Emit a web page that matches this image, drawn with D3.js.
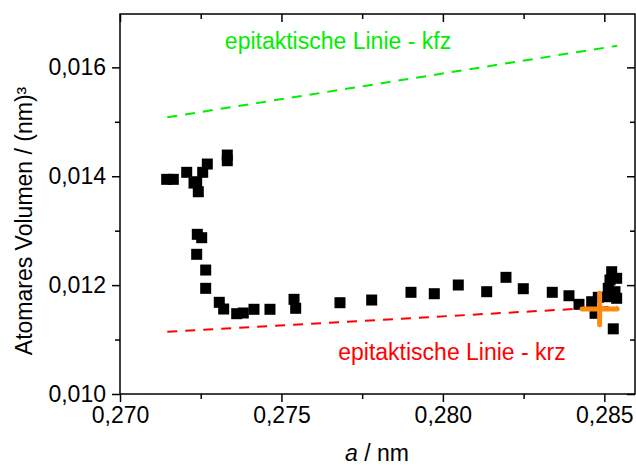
<!DOCTYPE html>
<html>
<head>
<meta charset="utf-8">
<script src="https://cdn.jsdelivr.net/npm/d3@7"></script>
<style>
  html, body { margin: 0; padding: 0; background: #fff; }
  svg { display: block; font-family: "Liberation Sans", Arial, sans-serif; }
</style>
</head>
<body>
<svg id="chart" width="636" height="466"></svg>
<script>
// Lattice parameter a (nm) of the measured points
const latticeA = [
  0.271446, 0.271651, 0.272066, 0.272292, 0.272375, 0.272425, 0.272561, 0.272704,
  0.273323, 0.273323, 0.272394, 0.272530, 0.272375, 0.272654, 0.272654, 0.273075,
  0.273211, 0.273614, 0.273818, 0.274150, 0.274645, 0.275389, 0.275441, 0.276813,
  0.277795, 0.279012, 0.279734, 0.280477, 0.281357, 0.281954, 0.282490, 0.283388,
  0.283905, 0.284215, 0.284608, 0.284813, 0.285228, 0.285382, 0.285175, 0.285122,
  0.285330, 0.285122, 0.285382, 0.284713, 0.285277
];
// Atomic volume (nm^3) of the measured points
const atomVolume = [
  0.013943, 0.013943, 0.014072, 0.013875, 0.013899, 0.013715, 0.014072, 0.014224,
  0.014389, 0.014285, 0.012933, 0.012871, 0.012566, 0.012277, 0.011941, 0.011684,
  0.011561, 0.011475, 0.011488, 0.011556, 0.011556, 0.011739, 0.011574, 0.011677,
  0.011726, 0.011868, 0.011842, 0.012002, 0.011879, 0.012143, 0.011934, 0.011868,
  0.011805, 0.011647, 0.011695, 0.011776, 0.012246, 0.012125, 0.012094, 0.011941,
  0.011879, 0.011787, 0.011758, 0.011482, 0.011197
];

// Epitaxial lines: end points (a, volume)
const lineFccA = [0.271465, 0.285401];
const lineFccV = [0.015082, 0.016397];
const lineBccA = [0.271465, 0.285401];
const lineBccV = [0.011144, 0.011605];

// Bulk reference value with error in a and volume
const refA = [0.284854];
const refV = [0.011560];
const refErrA = [0.000542];
const refErrV = [0.000290];

// Axis ticks
const xMajor = [0.270, 0.275, 0.280, 0.285];
const xMinor = [0.2725, 0.2775, 0.2825];
const yMajor = [0.010, 0.012, 0.014, 0.016];
const yMinor = [0.011, 0.013, 0.015];
const fmt = d => d3.format(".3f")(d).replace(".", ",");

const svg = d3.select("#chart");
const plotLeft = 120, plotRight = 635, plotTop = 14, plotBottom = 394;

const x = d3.scaleLinear().domain([0.270, 0.28595]).range([plotLeft, plotRight]);
const y = d3.scaleLinear().domain([0.010, 0.01698]).range([plotBottom, plotTop]);

// Data points (drawn first so the frame lies on top)
const sq = 11;
svg.append("g").selectAll("rect")
  .data(d3.range(latticeA.length))
  .join("rect")
  .attr("x", i => x(latticeA[i]) - sq / 2)
  .attr("y", i => y(atomVolume[i]) - sq / 2)
  .attr("width", sq).attr("height", sq)
  .attr("fill", "#000");

// Epitaxial lines
const lineGen = d3.line().x(d => x(d[0])).y(d => y(d[1]));
svg.append("path")
  .attr("d", lineGen(d3.zip(lineFccA, lineFccV)))
  .attr("stroke", "#00ee00").attr("stroke-width", 2)
  .attr("stroke-dasharray", "10,8").attr("fill", "none");
svg.append("path")
  .attr("d", lineGen(d3.zip(lineBccA, lineBccV)))
  .attr("stroke", "#ff0000").attr("stroke-width", 2)
  .attr("stroke-dasharray", "10,8").attr("fill", "none");

// Reference cross (error bars)
const cross = svg.append("g").attr("stroke", "#ff8a10").attr("stroke-width", 5)
  .attr("stroke-linecap", "round");
refA.forEach((a, i) => {
  cross.append("line")
    .attr("x1", x(a - refErrA[i])).attr("x2", x(a + refErrA[i]))
    .attr("y1", y(refV[i])).attr("y2", y(refV[i]));
  cross.append("line")
    .attr("x1", x(a)).attr("x2", x(a))
    .attr("y1", y(refV[i] - refErrV[i])).attr("y2", y(refV[i] + refErrV[i]));
});

// Axes
const fontSize = 23;
function styleAxis(g) {
  g.select(".domain").remove();
  g.selectAll("line").attr("stroke", "#000").attr("stroke-width", 1.5);
  g.selectAll("text").attr("font-size", fontSize).attr("fill", "#000")
    .attr("font-family", "'Liberation Sans', Arial, sans-serif");
}

// bottom
svg.append("g").attr("transform", `translate(0,${plotBottom})`)
  .call(d3.axisBottom(x).tickValues(xMajor).tickFormat(fmt).tickSize(8).tickPadding(5))
  .call(styleAxis);
svg.append("g").attr("transform", `translate(0,${plotBottom})`)
  .call(d3.axisBottom(x).tickValues(xMinor).tickFormat("").tickSize(5))
  .call(styleAxis);
// top (inward)
svg.append("g").attr("transform", `translate(0,${plotTop})`)
  .call(d3.axisBottom(x).tickValues(xMajor).tickFormat("").tickSize(8))
  .call(styleAxis);
svg.append("g").attr("transform", `translate(0,${plotTop})`)
  .call(d3.axisBottom(x).tickValues(xMinor).tickFormat("").tickSize(5))
  .call(styleAxis);
// left
svg.append("g").attr("transform", `translate(${plotLeft},0)`)
  .call(d3.axisLeft(y).tickValues(yMajor).tickFormat(fmt).tickSize(8).tickPadding(6))
  .call(styleAxis);
svg.append("g").attr("transform", `translate(${plotLeft},0)`)
  .call(d3.axisLeft(y).tickValues(yMinor).tickFormat("").tickSize(5))
  .call(styleAxis);
// right (inward)
svg.append("g").attr("transform", `translate(${plotRight},0)`)
  .call(d3.axisLeft(y).tickValues(yMajor).tickFormat("").tickSize(8))
  .call(styleAxis);
svg.append("g").attr("transform", `translate(${plotRight},0)`)
  .call(d3.axisLeft(y).tickValues(yMinor).tickFormat("").tickSize(5))
  .call(styleAxis);

// Frame
svg.append("rect")
  .attr("x", plotLeft).attr("y", plotTop)
  .attr("width", plotRight - plotLeft).attr("height", plotBottom - plotTop)
  .attr("fill", "none").attr("stroke", "#000").attr("stroke-width", 1.5);

// Axis titles
const xt = svg.append("text")
  .attr("x", 377).attr("y", 461)
  .attr("text-anchor", "middle").attr("font-size", fontSize).attr("fill", "#000");
xt.append("tspan").attr("font-style", "italic").text("a");
xt.append("tspan").text(" / nm");

svg.append("text")
  .attr("transform", "translate(32,221) rotate(-90)")
  .attr("text-anchor", "middle").attr("font-size", fontSize).attr("fill", "#000")
  .text("Atomares Volumen / (nm)³");

// Line labels
svg.append("text")
  .attr("x", 338).attr("y", 49)
  .attr("text-anchor", "middle").attr("font-size", fontSize).attr("fill", "#00ee00")
  .text("epitaktische Linie - kfz");
svg.append("text")
  .attr("x", 452).attr("y", 360)
  .attr("text-anchor", "middle").attr("font-size", fontSize).attr("fill", "#ff0000")
  .text("epitaktische Linie - krz");
</script>
</body>
</html>
